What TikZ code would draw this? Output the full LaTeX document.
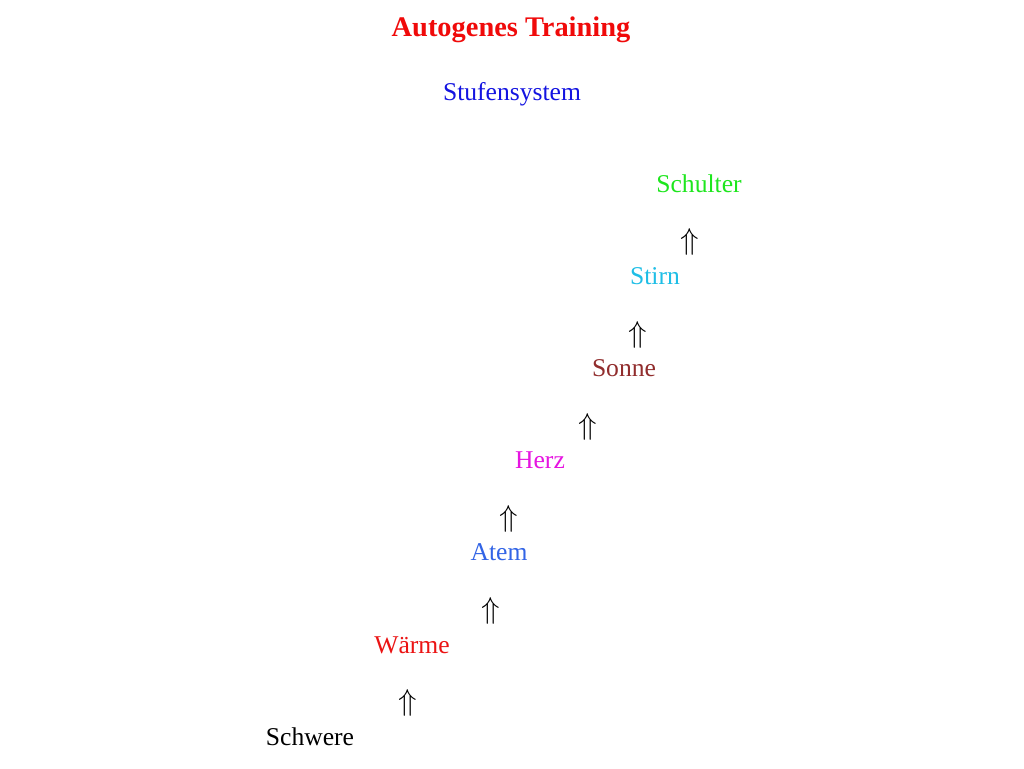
\documentclass[tikz,border=0pt]{standalone}
\usepackage{fontspec}
\setmainfont{Liberation Serif}
\definecolor{ctitle}{RGB}{240,10,10}
\definecolor{cstufe}{RGB}{20,20,225}
\definecolor{cschulter}{RGB}{30,230,30}
\definecolor{cstirn}{RGB}{30,190,230}
\definecolor{csonne}{RGB}{145,45,45}
\definecolor{cherz}{RGB}{230,20,225}
\definecolor{catem}{RGB}{50,100,230}
\definecolor{cwaerme}{RGB}{235,20,20}
\newcommand{\bigup}{\scalebox{1.22}{$\Uparrow$}}
\tikzset{
  word/.style={anchor=base, inner sep=0pt, font=\fontsize{25.6}{30}\selectfont},
  upsign/.style={anchor=center, inner sep=0pt, font=\fontsize{25.6}{30}\selectfont},
}
\begin{document}
\begin{tikzpicture}[x=1pt,y=1pt]
\useasboundingbox (0,-768) rectangle (1024,0);
\fill[white] (0,-768) rectangle (1024,0);
\node[word, text=ctitle, font=\fontsize{28.4}{34}\selectfont\bfseries] (title) at (511,-37) {Autogenes Training};
\node[word, text=cstufe] (stufen) at (512,-100) {Stufensystem};
\node[word, text=cschulter] (schulter) at (699,-192) {Schulter};
\node[upsign] (u6) at (690,-241.5) {\bigup};
\node[word, text=cstirn] (stirn) at (655,-284) {Stirn};
\node[upsign] (u5) at (638,-334.5) {\bigup};
\node[word, text=csonne] (sonne) at (624,-376) {Sonne};
\node[upsign] (u4) at (588,-426.5) {\bigup};
\node[word, text=cherz] (herz) at (540,-468) {Herz};
\node[upsign] (u3) at (509,-518.5) {\bigup};
\node[word, text=catem] (atem) at (499,-560) {Atem};
\node[upsign] (u2) at (491,-610.5) {\bigup};
\node[word, text=cwaerme] (waerme) at (412,-653) {Wärme};
\node[upsign] (u1) at (408,-703) {\bigup};
\node[word] (schwere) at (310,-745) {Schwere};
\end{tikzpicture}
\end{document}
